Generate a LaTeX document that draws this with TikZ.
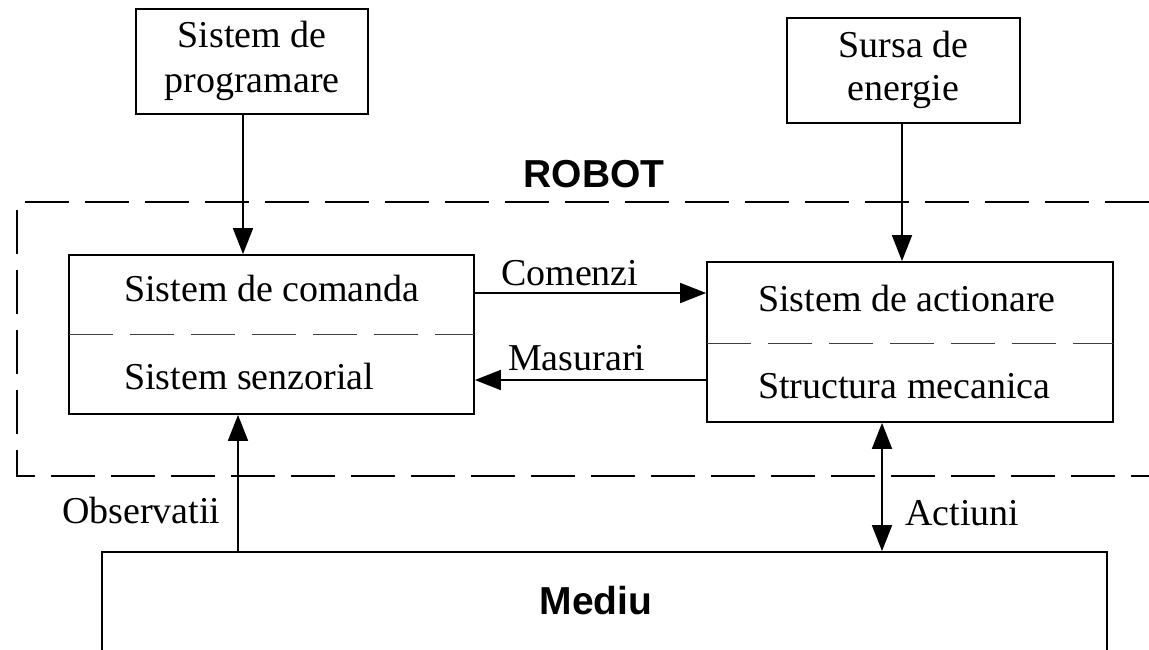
\documentclass[tikz,border=0pt]{standalone}
\usepackage{fontspec}
\setmainfont{Liberation Serif}
\newfontfamily\arialfont{Liberation Sans}
\usetikzlibrary{arrows.meta}
\tikzset{
  box/.style={draw, line width=1.8pt, rectangle, inner sep=0pt},
  txt/.style={inner sep=0pt, anchor=base west, font=\fontsize{38}{45}\selectfont},
  ctxt/.style={inner sep=0pt, anchor=base, font=\fontsize{38}{45}\selectfont},
  btxt/.style={inner sep=0pt, anchor=base, font=\arialfont\bfseries\fontsize{39}{46}\selectfont},
  conn/.style={line width=1.8pt, -{Triangle[length=26pt,width=20pt]}},
  dconn/.style={line width=1.8pt, {Triangle[length=26pt,width=20pt]}-{Triangle[length=26pt,width=20pt]}},
  robotline/.style={line width=1.3pt, dash pattern=on 44pt off 16pt},
  divider/.style={line width=1pt, black!75, dash pattern=on 44pt off 17pt}
}
\begin{document}
\begin{tikzpicture}[x=1pt,y=-1pt]
\clip (0,0) rectangle (1149,649);
\fill[white] (0,0) rectangle (1149,649);
% Robot boundary (open on the right)
\coordinate (rbTR) at (1149,202);
\coordinate (rbTL) at (17,202);
\coordinate (rbBL) at (17,476);
\coordinate (rbBR) at (1149,476);
\draw[robotline] (rbTR) -- (rbTL) -- (rbBL) -- (rbBR);
\node[btxt] (robot) at (594,187) {ROBOT};
% Top boxes
\node[box, minimum width=232pt, minimum height=105pt] (prog) at (252,61.5) {};
\node[ctxt] (progA) at (252,47) {Sistem de};
\node[ctxt] (progB) at (252,92) {programare};
\node[box, minimum width=233pt, minimum height=105pt] (sursa) at (903.5,70.5) {};
\node[ctxt] (sursaA) at (903.5,57) {Sursa de};
\node[ctxt] (sursaB) at (903.5,100) {energie};
% Left box
\node[box, minimum width=405pt, minimum height=159pt] (left) at (271.5,334.5) {};
\coordinate (ldivL) at (69,334);
\coordinate (ldivR) at (474,334);
\draw[divider] (ldivL) -- (ldivR);
\node[txt] (cmd) at (124,301) {Sistem de comanda};
\node[txt] (senz) at (124,389) {Sistem senzorial};
% Right box
\node[box, minimum width=406pt, minimum height=160pt] (right) at (910,342) {};
\coordinate (rdivL) at (707,343);
\coordinate (rdivR) at (1113,343);
\draw[divider] (rdivL) -- (rdivR);
\node[txt] (act) at (758,311) {Sistem de actionare};
\node[txt] (mec) at (758,398) {Structura mecanica};
% Mediu box (cut off at bottom)
\node[box, minimum width=1005pt, minimum height=200pt] (mediu) at (604.5,652) {};
\node[btxt] (mediuT) at (596,614) {Mediu};
% Connectors
\draw[conn] (prog.south -| 243,0) -- (left.north -| 243,0);
\draw[conn] (sursa.south -| 902,0) -- (right.north -| 902,0);
\draw[conn] (left.east |- 0,293) -- (right.west |- 0,293) node[pos=0.41, above=6pt, inner sep=0pt, font=\fontsize{38}{45}\selectfont] (comenzi) {Comenzi};
\draw[conn] (right.west |- 0,380) -- (left.east |- 0,380) node[pos=0.56, above=8pt, inner sep=0pt, font=\fontsize{38}{45}\selectfont] (masurari) {Masurari};
\draw[conn] (mediu.north -| 238,0) -- (left.south -| 238,0);
\draw[dconn] (right.south -| 882,0) -- (mediu.north -| 882,0);
\node[txt] (obs) at (62,523) {Observatii};
\node[txt] (acti) at (905,525) {Actiuni};
\end{tikzpicture}
\end{document}
